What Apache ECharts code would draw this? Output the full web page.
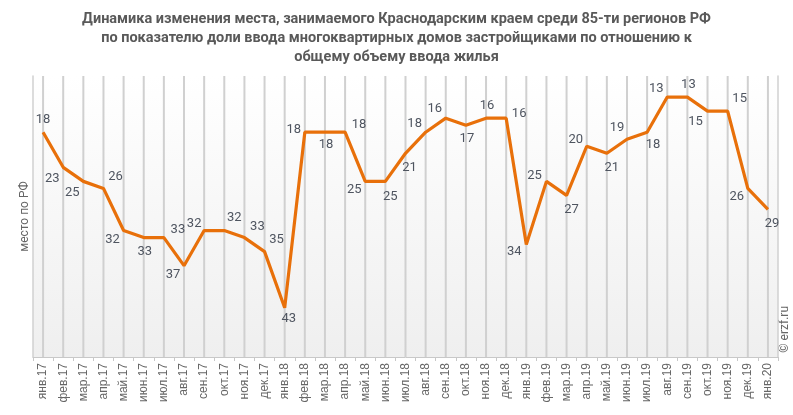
<!DOCTYPE html>
<html><head><meta charset="utf-8">
<script src="https://cdn.jsdelivr.net/npm/echarts@6/dist/echarts.min.js"></script>
<style>html,body{margin:0;padding:0;background:#fff}#c{width:793px;height:415px}</style>
</head><body><div id="c"></div>
<script>
const categories = ['янв.17','фев.17','мар.17','апр.17','май.17','июн.17','июл.17','авг.17','сен.17','окт.17','ноя.17','дек.17',
 'янв.18','фев.18','мар.18','апр.18','май.18','июн.18','июл.18','авг.18','сен.18','окт.18','ноя.18','дек.18',
 'янв.19','фев.19','мар.19','апр.19','май.19','июн.19','июл.19','авг.19','сен.19','окт.19','ноя.19','дек.19','янв.20'];
const ranks = [18,23,25,26,32,33,33,37,32,32,33,35,
 43,18,18,18,25,25,21,18,16,17,16,16,
 34,25,27,20,21,19,18,13,13,15,15,26,29];
const titleLines = ['Динамика изменения места, занимаемого Краснодарским краем среди 85-ти регионов РФ',
 'по показателю доли ввода многоквартирных домов застройщиками по отношению к',
 'общему объему ввода жилья'];
const yAxisName = 'место по РФ';
const watermark = '© erzf.ru';
const yMin = 10, yMax = 50;
// label placement style (offset of label centre from point, px)
const labelOffsets = [[0,-12],[-11,11],[-11,11],[12,-12],[-11,9],[1,14],[14,-8],[-11,9],[-10,-7],[10,-13],[13,-11],[12,-12],
 [4,11],[-11,-2],[1,13],[14,-7],[-11,8],[5,15],[4,14],[-11,-8],[-11,-9],[1,14],[1,-12],[13,-4],
 [-12,7],[-12,-6],[5,14],[-11,-7],[5,14],[-10,-11],[6,13],[-11,-8],[1,-12],[-12,11],[12,-12],[-11,8],[4,14]];

const G = {left:33, right:15, top:76, bottom:58};
const W = 793, H = 415;
const chart = echarts.init(document.getElementById('c'), null, {renderer:'canvas'});
chart.setOption({
  animation:false,
  backgroundColor:'#fff',
  title:{text:titleLines.join('\n'),left:'center',top:5,
    textStyle:{fontFamily:'Roboto',fontWeight:'bold',fontSize:14.5,color:'#595959',lineHeight:19}},
  grid:{left:G.left,right:G.right,top:G.top,bottom:G.bottom,show:false},
  xAxis:{type:'category',data:categories,boundaryGap:true,
    axisLine:{show:true,lineStyle:{color:'#c8c8c8',width:1}},
    axisTick:{show:true,length:4,lineStyle:{color:'#c8c8c8'}},
    axisLabel:{rotate:90,fontFamily:'Liberation Sans',fontSize:12,color:'#666',margin:6,interval:0},
    splitLine:{show:false}},
  yAxis:[{type:'value',inverse:true,min:yMin,max:yMax,name:yAxisName,nameLocation:'middle',nameGap:2,
    nameTextStyle:{fontFamily:'Roboto',fontSize:12,color:'#666'},
    axisLabel:{show:false},axisTick:{show:false},splitLine:{show:false},
    axisLine:{show:true,lineStyle:{color:'#d0d0d0',width:1.5}}},
   {type:'value',inverse:true,min:yMin,max:yMax,position:'right',
    axisLabel:{show:false},axisTick:{show:false},splitLine:{show:false},
    axisLine:{show:true,lineStyle:{color:'#d0d0d0',width:1.5}}}],
  graphic:[
   {type:'rect',z:-10,silent:true,
    shape:{x:G.left,y:G.top,width:W-G.left-G.right,height:H-G.top-G.bottom},
    style:{fill:new echarts.graphic.LinearGradient(0,0,0,1,[{offset:0,color:'#ffffff'},{offset:1,color:'#efefef'}])}},
   {type:'text',right:2,top:306,rotation:Math.PI/2,
    style:{text:watermark,fontFamily:'Roboto',fontSize:12,fill:'#666'}}],
  series:[
   {type:'bar',z:2,silent:true,barWidth:2,data:categories.map(()=>yMax),
    itemStyle:{color:'#d0d0d0'},label:{show:false}},
   {type:'line',z:3,data:ranks.map((v,i)=>({value:v,label:{offset:labelOffsets[i]}})),
    symbol:'circle',symbolSize:0.1,itemStyle:{color:'rgba(0,0,0,0)'},
    lineStyle:{color:'#E8700A',width:3.2},
    label:{show:true,position:'inside',fontFamily:'Roboto',fontSize:13,color:'#4f5560'}}
  ]
});
</script></body></html>
